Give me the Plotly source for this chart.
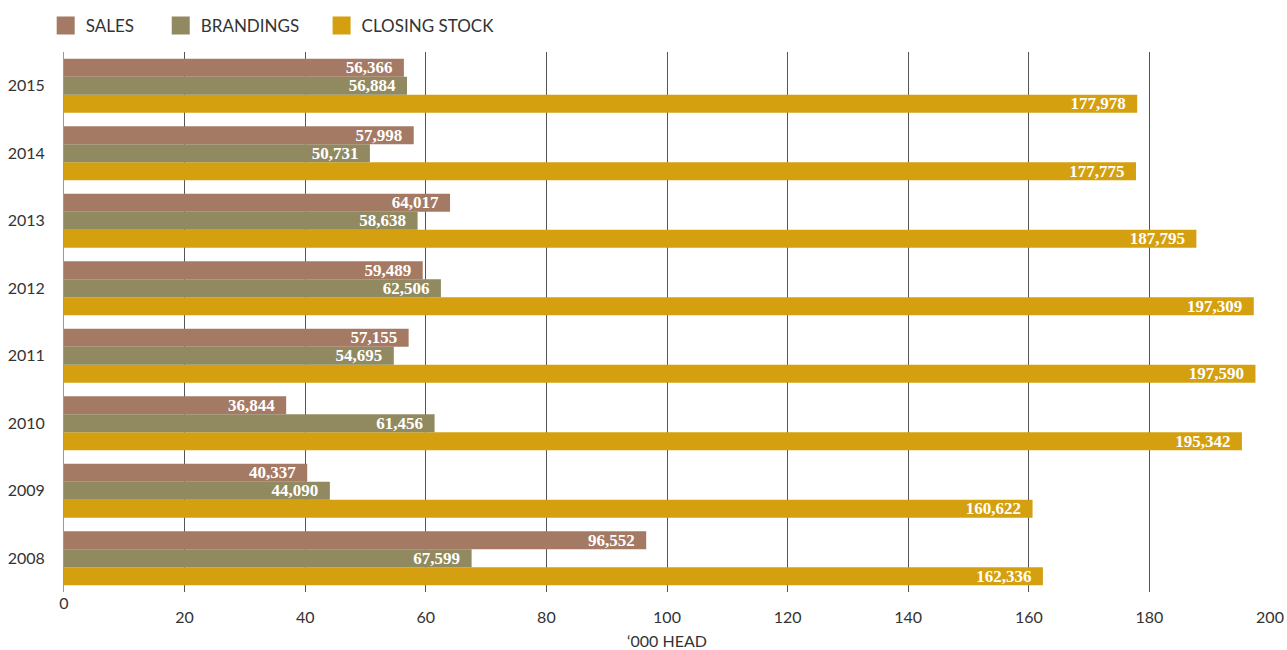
import plotly.graph_objects as go

years = ["2008", "2009", "2010", "2011", "2012", "2013", "2014", "2015"]
sales = [96552, 40337, 36844, 57155, 59489, 64017, 57998, 56366]
brandings = [67599, 44090, 61456, 54695, 62506, 58638, 50731, 56884]
closing = [162336, 160622, 195342, 197590, 197309, 187795, 177775, 177978]

series = [
    ("CLOSING STOCK", closing, "#D4A00F"),
    ("BRANDINGS", brandings, "#918A60"),
    ("SALES", sales, "#A57A64"),
]

x_ticks = [20, 40, 60, 80, 100, 120, 140, 160, 180, 200]

SANS = "Lato, 'Open Sans', sans-serif"
SERIF = "'Liberation Serif', serif"
NB = "\u00a0"

fig = go.Figure()
for name, vals, col in series:
    fig.add_trace(go.Bar(
        y=years, x=[v / 1000 for v in vals], orientation="h", name=name,
        marker=dict(color=col, line=dict(width=0)),
        text=[f"{v:,}" + NB * 2 for v in vals], textposition="inside",
        insidetextanchor="end", constraintext="none", textangle=0,
        textfont=dict(family=SERIF, size=17, color="white", weight="bold"),
        showlegend=False, hoverinfo="skip",
    ))

legend_names = [("SALES", 5, "#A57A64"), ("BRANDINGS", 4, "#918A60"), ("CLOSING STOCK", 0, "#D4A00F")]
for name, npad, col in legend_names:
    fig.add_trace(go.Scatter(
        x=[None], y=[None], mode="markers", name=name + NB * npad,
        marker=dict(symbol="square", size=16, color=col, line=dict(width=2, color=col)),
        xaxis="x2", showlegend=True,
    ))

fig.update_layout(
    width=1287, height=650,
    margin=dict(l=64, r=17, t=52, b=58),
    paper_bgcolor="white", plot_bgcolor="white",
    barmode="group", bargap=0.2, bargroupgap=0,
    font=dict(family=SANS, size=16, color="#333333"),
    legend=dict(orientation="h", xref="container", yref="container",
                x=0.0355, y=1 - 26 / 650, yanchor="middle", xanchor="left",
                font=dict(family=SANS, size=17, color="#333333"),
                itemsizing="trace", tracegroupgap=0),
    xaxis=dict(range=[0, 200], tickvals=x_ticks, ticktext=[str(t) for t in x_ticks],
               showgrid=True, gridcolor="#555555", gridwidth=1, zeroline=False,
               showline=False, ticks="", ticklabelstandoff=14, automargin=False,
               tickfont=dict(family=SANS, size=16, color="#333333"),
               title=dict(text="\u2018000 HEAD", standoff=12,
                          font=dict(family=SANS, size=16, color="#333333"))),
    xaxis2=dict(range=[0, 200], overlaying="x", anchor="y", side="bottom",
                tickvals=[0], ticktext=["0"], showgrid=False, zeroline=False,
                showline=False, ticks="", ticklabelstandoff=0, automargin=False,
                tickfont=dict(family=SANS, size=16, color="#333333")),
    yaxis=dict(type="category", categoryorder="array", categoryarray=years,
               range=[-0.5, 7.5], showgrid=False, showline=True, linecolor="#999999",
               linewidth=1, ticks="", ticklabelstandoff=15, zeroline=False,
               automargin=False,
               tickfont=dict(family=SANS, size=16, color="#333333")),
)

fig.write_html("out.html")
